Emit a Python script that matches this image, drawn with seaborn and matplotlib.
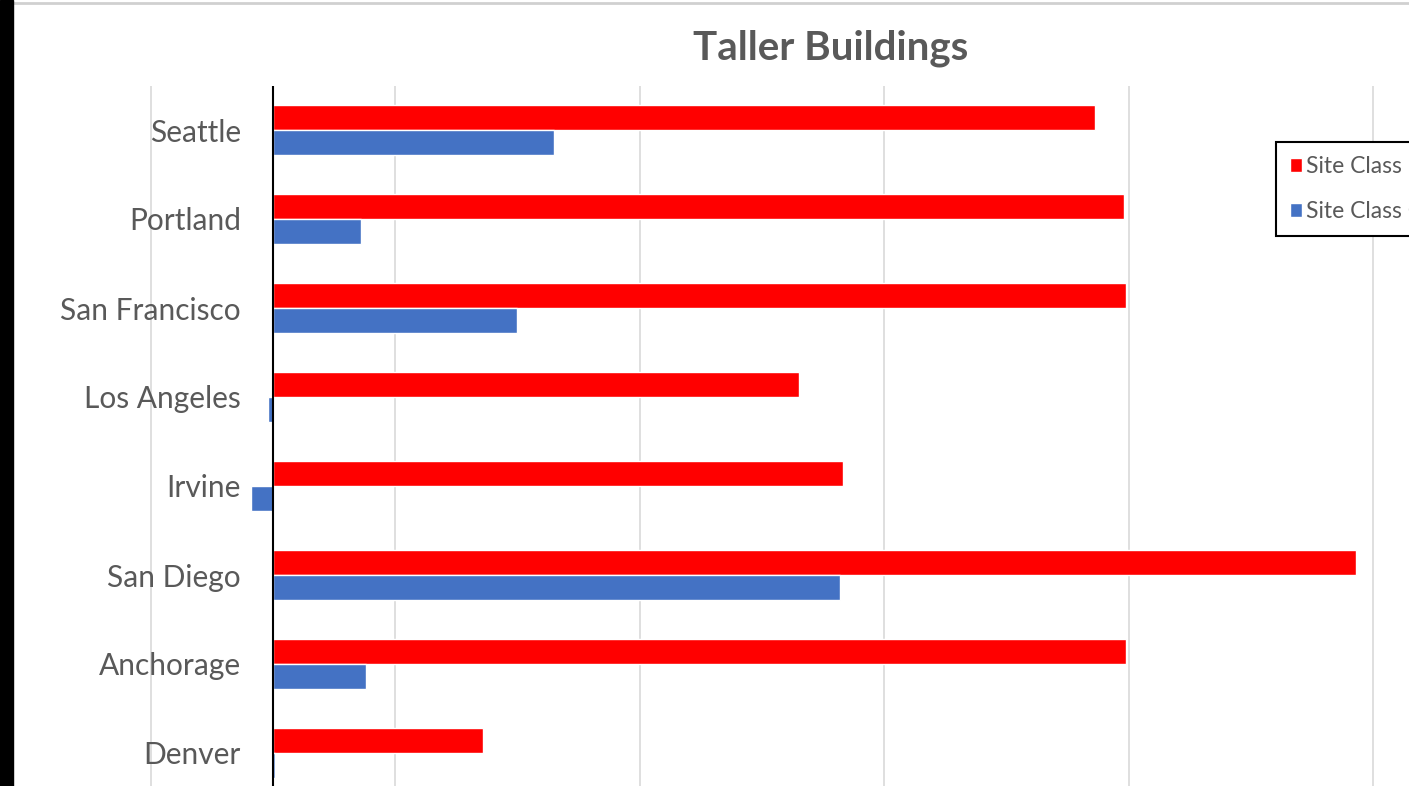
import pandas as pd
import matplotlib
matplotlib.use("Agg")
import matplotlib.pyplot as plt
import seaborn as sns
from matplotlib.patches import Rectangle
from matplotlib.lines import Line2D

# data (no axis labels shown, units are arbitrary)
cities = ["Seattle", "Portland", "San Francisco", "Los Angeles",
          "Irvine", "San Diego", "Anchorage", "Denver"]
series_names = ["Site Class D", "Site Class C"]
red_vals = [33.6, 34.8, 34.9, 21.5, 23.3, 44.3, 34.9, 8.6]
blue_vals = [11.5, 3.6, 10.0, -0.2, -0.9, 23.2, 3.8, 0.1]
colors = ["#ff0000", "#4472c4"]
grid_ticks = [-5, 5, 15, 25, 35, 45]

df = pd.DataFrame({
    "city": cities * 2,
    "value": red_vals + blue_vals,
    "series": [series_names[0]] * len(cities) + [series_names[1]] * len(cities),
})

sns.set_theme(style="white")
plt.rcParams["font.family"] = ["Lato", "DejaVu Sans"]

W, H = 1409, 786
fig = plt.figure(figsize=(W / 100, H / 100), dpi=100)
# plot area runs off the bottom edge of the picture
ax = fig.add_axes([14 / W, 1 - 797.5 / H, (W - 14) / W, 712 / H])

sns.barplot(data=df, x="value", y="city", hue="series", order=cities,
            hue_order=series_names, palette=colors, orient="h",
            width=0.573, errorbar=None, saturation=1, ax=ax)

ax.set_xlim(-10.59, 46.46)
ax.set_xticks(grid_ticks)
ax.set_xticklabels([])
ax.xaxis.grid(True, color="#d9d9d9", lw=1.2)
ax.set_axisbelow(True)
ax.axvline(0, color="black", lw=1.5, zorder=3)
ax.spines["left"].set_position(("data", 0))  # labels sit next to the zero line
ax.tick_params(axis="x", length=0)
ax.tick_params(axis="y", length=0, pad=23, labelsize=21.5, labelcolor="#595959")
ax.set_xlabel("")
ax.set_ylabel("")
for s in ax.spines.values():
    s.set_visible(False)

fig.text(831 / W, 1 - 48 / H, "Taller Buildings", ha="center", va="center",
         fontsize=29, fontweight="bold", color="#595959")

# legend runs past the right edge, as in the screenshot
handles, labels = ax.get_legend_handles_labels()
ax.get_legend().remove()
leg = ax.legend(handles, labels, loc="upper left",
                bbox_to_anchor=(1276 / W, 1 - 142 / H), bbox_transform=fig.transFigure,
                borderaxespad=0, frameon=True, fancybox=False, edgecolor="black",
                framealpha=1, fontsize=16.5, handlelength=0.55, handleheight=0.55,
                handletextpad=0.15, labelspacing=1.05, borderpad=0.6,
                labelcolor="#595959")
leg.get_frame().set_linewidth(1.5)

# screenshot edges
fig.patches.append(Rectangle((0, 0), 13 / W, 1, transform=fig.transFigure,
                             color="black", zorder=5))
fig.add_artist(Line2D([13 / W, 1], [1 - 3 / H] * 2, color="#d0d0d0", lw=2))

fig.savefig("out.png", dpi=100)
